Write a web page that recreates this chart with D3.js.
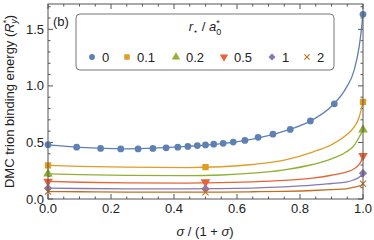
<!DOCTYPE html>
<html>
<head>
<meta charset="utf-8">
<script src="https://cdn.jsdelivr.net/npm/d3@7"></script>
<style>
  body { margin: 0; background: #fff; }
  svg { display: block; font-family: "Liberation Sans", Arial, sans-serif; }
</style>
</head>
<body>
<svg id="chart" width="374" height="240"></svg>
<script>
// DMC points for r* = 0 (x = sigma / (1 + sigma))
var xDense = [0, 0.091, 0.167, 0.231, 0.286, 0.333, 0.375, 0.412, 0.444, 0.474,
  0.5, 0.526, 0.556, 0.588, 0.625, 0.667, 0.714, 0.769, 0.833, 0.909, 1];
var yDense = [0.48, 0.458, 0.447, 0.443, 0.443, 0.447, 0.452, 0.458, 0.465, 0.472,
  0.478, 0.485, 0.492, 0.503, 0.518, 0.545, 0.573, 0.615, 0.69, 0.842, 1.633];

// other radii only at three sigma values
var xSparse = [0, 0.5, 1];
var ptsR01 = [0.297, 0.282, 0.858];
var xGreen = [0, 1];
var ptsR02 = [0.223, 0.613];
var ptsR05 = [0.155, 0.149, 0.383];
var ptsR1 = [0.096, 0.09, 0.228];
var ptsR2 = [0.066, 0.06, 0.135];

// fitted curves
var fitX = [0, 0.1, 0.25, 0.44, 0.55, 0.65, 0.75, 0.84, 0.9, 0.946, 0.972, 0.988, 0.995, 1];
var fitR0 = [0.478, 0.456, 0.443, 0.465, 0.49, 0.53, 0.6, 0.7, 0.82, 0.98, 1.14, 1.35, 1.5, 1.633];
var fitR01 = [0.297, 0.289, 0.281, 0.278, 0.285, 0.305, 0.343, 0.415, 0.48, 0.563, 0.637, 0.725, 0.8, 0.858];
var fitR02 = [0.223, 0.215, 0.209, 0.207, 0.212, 0.228, 0.258, 0.305, 0.355, 0.415, 0.474, 0.548, 0.585, 0.613];
var fitR05 = [0.155, 0.148, 0.143, 0.141, 0.144, 0.152, 0.165, 0.185, 0.21, 0.238, 0.268, 0.306, 0.34, 0.383];
var fitR1 = [0.096, 0.093, 0.09, 0.089, 0.091, 0.097, 0.107, 0.122, 0.137, 0.149, 0.17, 0.193, 0.21, 0.228];
var fitR2 = [0.066, 0.064, 0.061, 0.06, 0.061, 0.064, 0.068, 0.075, 0.083, 0.09, 0.105, 0.115, 0.122, 0.135];

var legendLabels = ['0', '0.1', '0.2', '0.5', '1', '2'];
var colors = ['#5e81b5', '#e19c24', '#8fb032', '#eb6235', '#8778b3', '#c56e1a'];
var xTicks = [0, 0.2, 0.4, 0.6, 0.8, 1.0];
var yTicks = [0, 0.5, 1.0, 1.5];

var series = [
  {xs: xDense, ys: yDense, fit: fitR0, shape: 'circle'},
  {xs: xSparse, ys: ptsR01, fit: fitR01, shape: 'square'},
  {xs: xGreen, ys: ptsR02, fit: fitR02, shape: 'triangle'},
  {xs: xSparse, ys: ptsR05, fit: fitR05, shape: 'down'},
  {xs: xSparse, ys: ptsR1, fit: fitR1, shape: 'diamond'},
  {xs: xSparse, ys: ptsR2, fit: fitR2, shape: 'times'}
];

var W = 374, H = 240;
var margin = {left: 48, right: 11, top: 4, bottom: 41};
var svg = d3.select('#chart');

var x = d3.scaleLinear().domain([0, 1]).range([margin.left, W - margin.right]);
var y = d3.scaleLinear().domain([0, 1.724]).range([H - margin.bottom, margin.top]);

// marker path for each shape
var markerPath = function (shape, scale) {
  let s = scale || 1;
  if (shape === 'circle') return d3.symbol(d3.symbolCircle, 36 * s)();
  if (shape === 'square') return d3.symbol(d3.symbolSquare, 40 * s)();
  if (shape === 'triangle' || shape === 'down') return d3.symbol(d3.symbolTriangle, 40 * s)();
  if (shape === 'diamond') return d3.symbol(d3.symbolSquare, 34 * s)();
  return d3.symbol(d3.symbolTimes, 26 * s)();
};
var markerRot = function (shape) {
  if (shape === 'down') return ' rotate(180)';
  if (shape === 'diamond') return ' rotate(45)';
  return '';
};
var drawMarker = function (g, shape, color, cx, cy, scale) {
  let p = g.append('path')
    .attr('d', markerPath(shape, scale))
    .attr('transform', `translate(${cx},${cy})` + markerRot(shape));
  if (shape === 'times') p.attr('fill', 'none').attr('stroke', color).attr('stroke-width', 1.1);
  else p.attr('fill', color);
};

// frame ticks (inward), all four sides
var frame = svg.append('g').attr('stroke', '#555').attr('stroke-width', 1);
var xMinor = d3.range(0, 1.0001, 0.05);
var yMinor = d3.range(0, 1.72, 0.1);
xMinor.forEach(function (v) {
  let major = Math.abs(v * 5 - Math.round(v * 5)) < 1e-6;
  let len = major ? 5 : 2.5;
  frame.append('line').attr('x1', x(v)).attr('x2', x(v))
    .attr('y1', y.range()[0]).attr('y2', y.range()[0] - len);
  frame.append('line').attr('x1', x(v)).attr('x2', x(v))
    .attr('y1', y.range()[1]).attr('y2', y.range()[1] + len);
});
yMinor.forEach(function (v) {
  let major = Math.abs(v * 2 - Math.round(v * 2)) < 1e-6;
  let len = major ? 5 : 2.5;
  frame.append('line').attr('y1', y(v)).attr('y2', y(v))
    .attr('x1', x.range()[0]).attr('x2', x.range()[0] + len);
  frame.append('line').attr('y1', y(v)).attr('y2', y(v))
    .attr('x1', x.range()[1]).attr('x2', x.range()[1] - len);
});

// fitted curves
var line = d3.line()
  .x(function (d) { return x(d[0]); })
  .y(function (d) { return y(d[1]); })
  .curve(d3.curveMonotoneX);
series.forEach(function (s, i) {
  svg.append('path')
    .datum(fitX.map(function (v, k) { return [v, s.fit[k]]; }))
    .attr('d', line)
    .attr('fill', 'none')
    .attr('stroke', colors[i])
    .attr('stroke-width', 1.3);
});

// data markers
var marks = svg.append('g');
series.forEach(function (s, i) {
  s.xs.forEach(function (v, k) {
    drawMarker(marks, s.shape, colors[i], x(v), y(s.ys[k]));
  });
});

// frame box
svg.append('rect')
  .attr('x', x.range()[0]).attr('y', y.range()[1])
  .attr('width', x.range()[1] - x.range()[0])
  .attr('height', y.range()[0] - y.range()[1])
  .attr('fill', 'none').attr('stroke', '#555').attr('stroke-width', 1);

// tick labels
var fmt = d3.format('.1f');
svg.append('g').selectAll('text').data(xTicks).join('text')
  .attr('x', function (d) { return x(d); })
  .attr('y', 213)
  .attr('text-anchor', 'middle')
  .attr('font-size', 13)
  .attr('fill', '#222')
  .text(fmt);
svg.append('g').selectAll('text').data(yTicks).join('text')
  .attr('x', 44)
  .attr('y', function (d) { return y(d) + 4.5; })
  .attr('text-anchor', 'end')
  .attr('font-size', 13)
  .attr('fill', '#222')
  .text(fmt);

// axis labels
var xl = svg.append('text')
  .attr('x', 205).attr('y', 236)
  .attr('text-anchor', 'middle').attr('font-size', 13).attr('fill', '#222');
xl.append('tspan').attr('font-style', 'italic').text('σ');
xl.append('tspan').text(' / (1 + ');
xl.append('tspan').attr('font-style', 'italic').text('σ');
xl.append('tspan').text(')');

var yl = svg.append('text')
  .attr('transform', 'translate(14,' + ((y.range()[0] + y.range()[1]) / 2) + ') rotate(-90)')
  .attr('text-anchor', 'middle').attr('font-size', 13).attr('fill', '#222');
yl.append('tspan').text('DMC trion binding energy (');
yl.append('tspan').attr('font-style', 'italic').text('R');
yl.append('tspan').attr('font-size', 9).attr('dy', -5).text('*');
yl.append('tspan').attr('font-size', 9).attr('font-style', 'italic').attr('dy', 8).attr('dx', -4).text('y');
yl.append('tspan').attr('dy', -3).text(')');

svg.append('text').attr('x', 53).attr('y', 26)
  .attr('font-size', 13).attr('fill', '#222').text('(b)');

// legend
var lg = svg.append('g');
lg.append('rect')
  .attr('x', 76).attr('y', 14).attr('width', 258).attr('height', 56)
  .attr('rx', 4).attr('fill', '#fff').attr('stroke', '#777').attr('stroke-width', 1);
var lt = lg.append('text')
  .attr('x', 205).attr('y', 31)
  .attr('text-anchor', 'middle').attr('font-size', 13).attr('fill', '#222');
lt.append('tspan').attr('font-style', 'italic').text('r');
lt.append('tspan').attr('font-size', 8).attr('dy', 3).text('⋆');
lt.append('tspan').attr('dy', -3).text(' / ');
lt.append('tspan').attr('font-style', 'italic').text('a');
lt.append('tspan').attr('font-size', 9).attr('dy', 4).text('0');
lt.append('tspan').attr('font-size', 9).attr('dy', -9).attr('dx', -5).text('*');

var legendX = [92, 127, 176, 224, 272, 307];
series.forEach(function (s, i) {
  drawMarker(lg, s.shape, colors[i], legendX[i], 57, 0.75);
  lg.append('text')
    .attr('x', legendX[i] + 10).attr('y', 62)
    .attr('font-size', 13).attr('fill', '#222')
    .text(legendLabels[i]);
});
</script>
</body>
</html>
